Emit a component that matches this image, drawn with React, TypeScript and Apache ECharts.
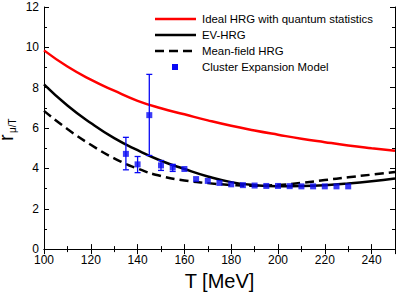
import React, { useEffect, useRef } from "react";
import * as echarts from "echarts";

// Temperature grid for model curves (MeV)
const curveT = [100, 110, 120, 130, 140, 150, 160, 170, 180, 190, 200, 210, 220, 230, 240, 250];
const idealHRG = [9.85, 9.05, 8.4, 7.85, 7.35, 6.98, 6.68, 6.38, 6.11, 5.88, 5.67, 5.47, 5.3, 5.14, 5.0, 4.87];
const evHRG = [8.17, 7.12, 6.25, 5.5, 4.9, 4.38, 3.97, 3.6, 3.32, 3.17, 3.12, 3.13, 3.17, 3.25, 3.36, 3.5];
const mfHRG = [6.85, 5.95, 5.17, 4.5, 3.99, 3.62, 3.4, 3.27, 3.18, 3.14, 3.18, 3.28, 3.42, 3.56, 3.69, 3.82];

// Cluster Expansion Model points
const cemT = [135, 140, 145, 150, 155, 160, 165, 170, 175, 180, 185, 190, 195, 200, 205, 210, 215, 220, 225, 230];
const cemV = [4.72, 4.2, 6.64, 4.15, 4.05, 3.97, 3.47, 3.38, 3.28, 3.21, 3.17, 3.15, 3.13, 3.13, 3.12, 3.11, 3.11, 3.11, 3.11, 3.11];
const cemLo = [3.93, 3.79, 4.64, 3.9, 3.85, null, null, null, null, null, null, null, null, null, null, null, null, null, null, null];
const cemHi = [5.54, 4.59, 8.66, 4.39, 4.2, null, null, null, null, null, null, null, null, null, null, null, null, null, null, null];

const xTicks = { min: 100, max: 250, interval: 20 };
const yTicks = { min: 0, max: 12, interval: 2 };

const legendNames = [
  "Ideal HRG with quantum statistics",
  "EV-HRG",
  "Mean-field HRG",
  "Cluster Expansion Model",
];

const FONT = "Liberation Sans, Arial, sans-serif";
const BLUE = "#0a0af5";

export default function App() {
  const ref = useRef<HTMLDivElement>(null);
  useEffect(() => {
    if (!ref.current) return;
    document.body.style.margin = "0";
    const chart = echarts.init(ref.current, undefined, { renderer: "svg" });
    const pair = (xs: number[], ys: number[]) => xs.map((x, i) => [x, ys[i]]);
    const errData = cemT
      .map((t, i) => [t, cemLo[i], cemHi[i]])
      .filter((d) => d[1] != null);

    const axisCommon = {
      axisLine: { lineStyle: { color: "#000", width: 1 } },
      axisTick: { inside: true, length: 5, lineStyle: { color: "#000" } },
      minorTick: { show: true, splitNumber: 2, length: 3, lineStyle: { color: "#000" } },
      splitLine: { show: false },
    };

    const legendY = [19, 35, 51, 67];
    const legendGraphics: any[] = [
      { type: "line", shape: { x1: 155, y1: legendY[0], x2: 196, y2: legendY[0] }, style: { stroke: "#ff0000", lineWidth: 2.5 } },
      { type: "line", shape: { x1: 155, y1: legendY[1], x2: 196, y2: legendY[1] }, style: { stroke: "#000", lineWidth: 2.5 } },
      { type: "line", shape: { x1: 155, y1: legendY[2], x2: 196, y2: legendY[2] }, style: { stroke: "#000", lineWidth: 2.5, lineDash: [9, 5] } },
      { type: "rect", shape: { x: 172, y: legendY[3] - 3, width: 6, height: 6 }, style: { fill: BLUE } },
      ...legendNames.map((n, i) => ({
        type: "text",
        x: 202,
        y: legendY[i],
        style: { text: n, fontSize: 11.4, fontFamily: FONT, fill: "#000", align: "left", verticalAlign: "middle" },
      })),
      {
        type: "text", x: 6, y: 141, rotation: Math.PI / 2,
        style: { text: "r", fontSize: 20, fontFamily: FONT, fill: "#000", align: "left", verticalAlign: "middle" },
      },
      {
        type: "text", x: 12, y: 133, rotation: Math.PI / 2,
        style: { text: "μ/T", fontSize: 10, fontFamily: FONT, fill: "#000", align: "left", verticalAlign: "middle" },
      },
    ];

    chart.setOption({
      animation: false,
      grid: { left: 44, right: 12, top: 7, bottom: 45 },
      xAxis: [
        {
          type: "value", ...xTicks, ...axisCommon,
          axisLabel: { color: "#000", fontSize: 12, fontFamily: FONT, margin: 5, showMaxLabel: false },
          name: "T [MeV]", nameLocation: "middle", nameGap: 16,
          nameTextStyle: { fontSize: 20, fontFamily: FONT, color: "#000" },
        },
        {
          type: "value", position: "top", ...xTicks, ...axisCommon,
          axisLabel: { show: false },
        },
      ],
      yAxis: [
        {
          type: "value", ...yTicks, ...axisCommon,
          axisLabel: { color: "#000", fontSize: 12, fontFamily: FONT, margin: 5 },
        },
        {
          type: "value", position: "right", ...yTicks, ...axisCommon,
          axisLabel: { show: false },
        },
      ],
      graphic: legendGraphics,
      series: [
        {
          name: legendNames[0], type: "line", data: pair(curveT, idealHRG), smooth: 0.5,
          symbol: "none", lineStyle: { color: "#ff0000", width: 2.5 }, z: 2,
        },
        {
          name: legendNames[1], type: "line", data: pair(curveT, evHRG), smooth: 0.5,
          symbol: "none", lineStyle: { color: "#000", width: 2.5 }, z: 2,
        },
        {
          name: legendNames[2], type: "line", data: pair(curveT, mfHRG), smooth: 0.5,
          symbol: "none", lineStyle: { color: "#000", width: 2.5, type: [9, 5] }, z: 2,
        },
        {
          name: "errors", type: "custom", data: errData, encode: { x: 0, y: [1, 2] }, z: 3,
          renderItem: (params: any, api: any) => {
            const t = api.value(0);
            const lo = api.coord([t, api.value(1)]);
            const hi = api.coord([t, api.value(2)]);
            const w = 3;
            const st = { stroke: BLUE, lineWidth: 1.3 };
            return {
              type: "group",
              children: [
                { type: "line", shape: { x1: lo[0], y1: lo[1], x2: hi[0], y2: hi[1] }, style: st },
                { type: "line", shape: { x1: lo[0] - w, y1: lo[1], x2: lo[0] + w, y2: lo[1] }, style: st },
                { type: "line", shape: { x1: hi[0] - w, y1: hi[1], x2: hi[0] + w, y2: hi[1] }, style: st },
              ],
            };
          },
        },
        {
          name: legendNames[3], type: "scatter", data: pair(cemT, cemV),
          symbol: "rect", symbolSize: 6, itemStyle: { color: BLUE }, z: 4,
        },
      ],
    });
    return () => chart.dispose();
  }, []);
  return <div ref={ref} style={{ width: 407, height: 296 }} />;
}
